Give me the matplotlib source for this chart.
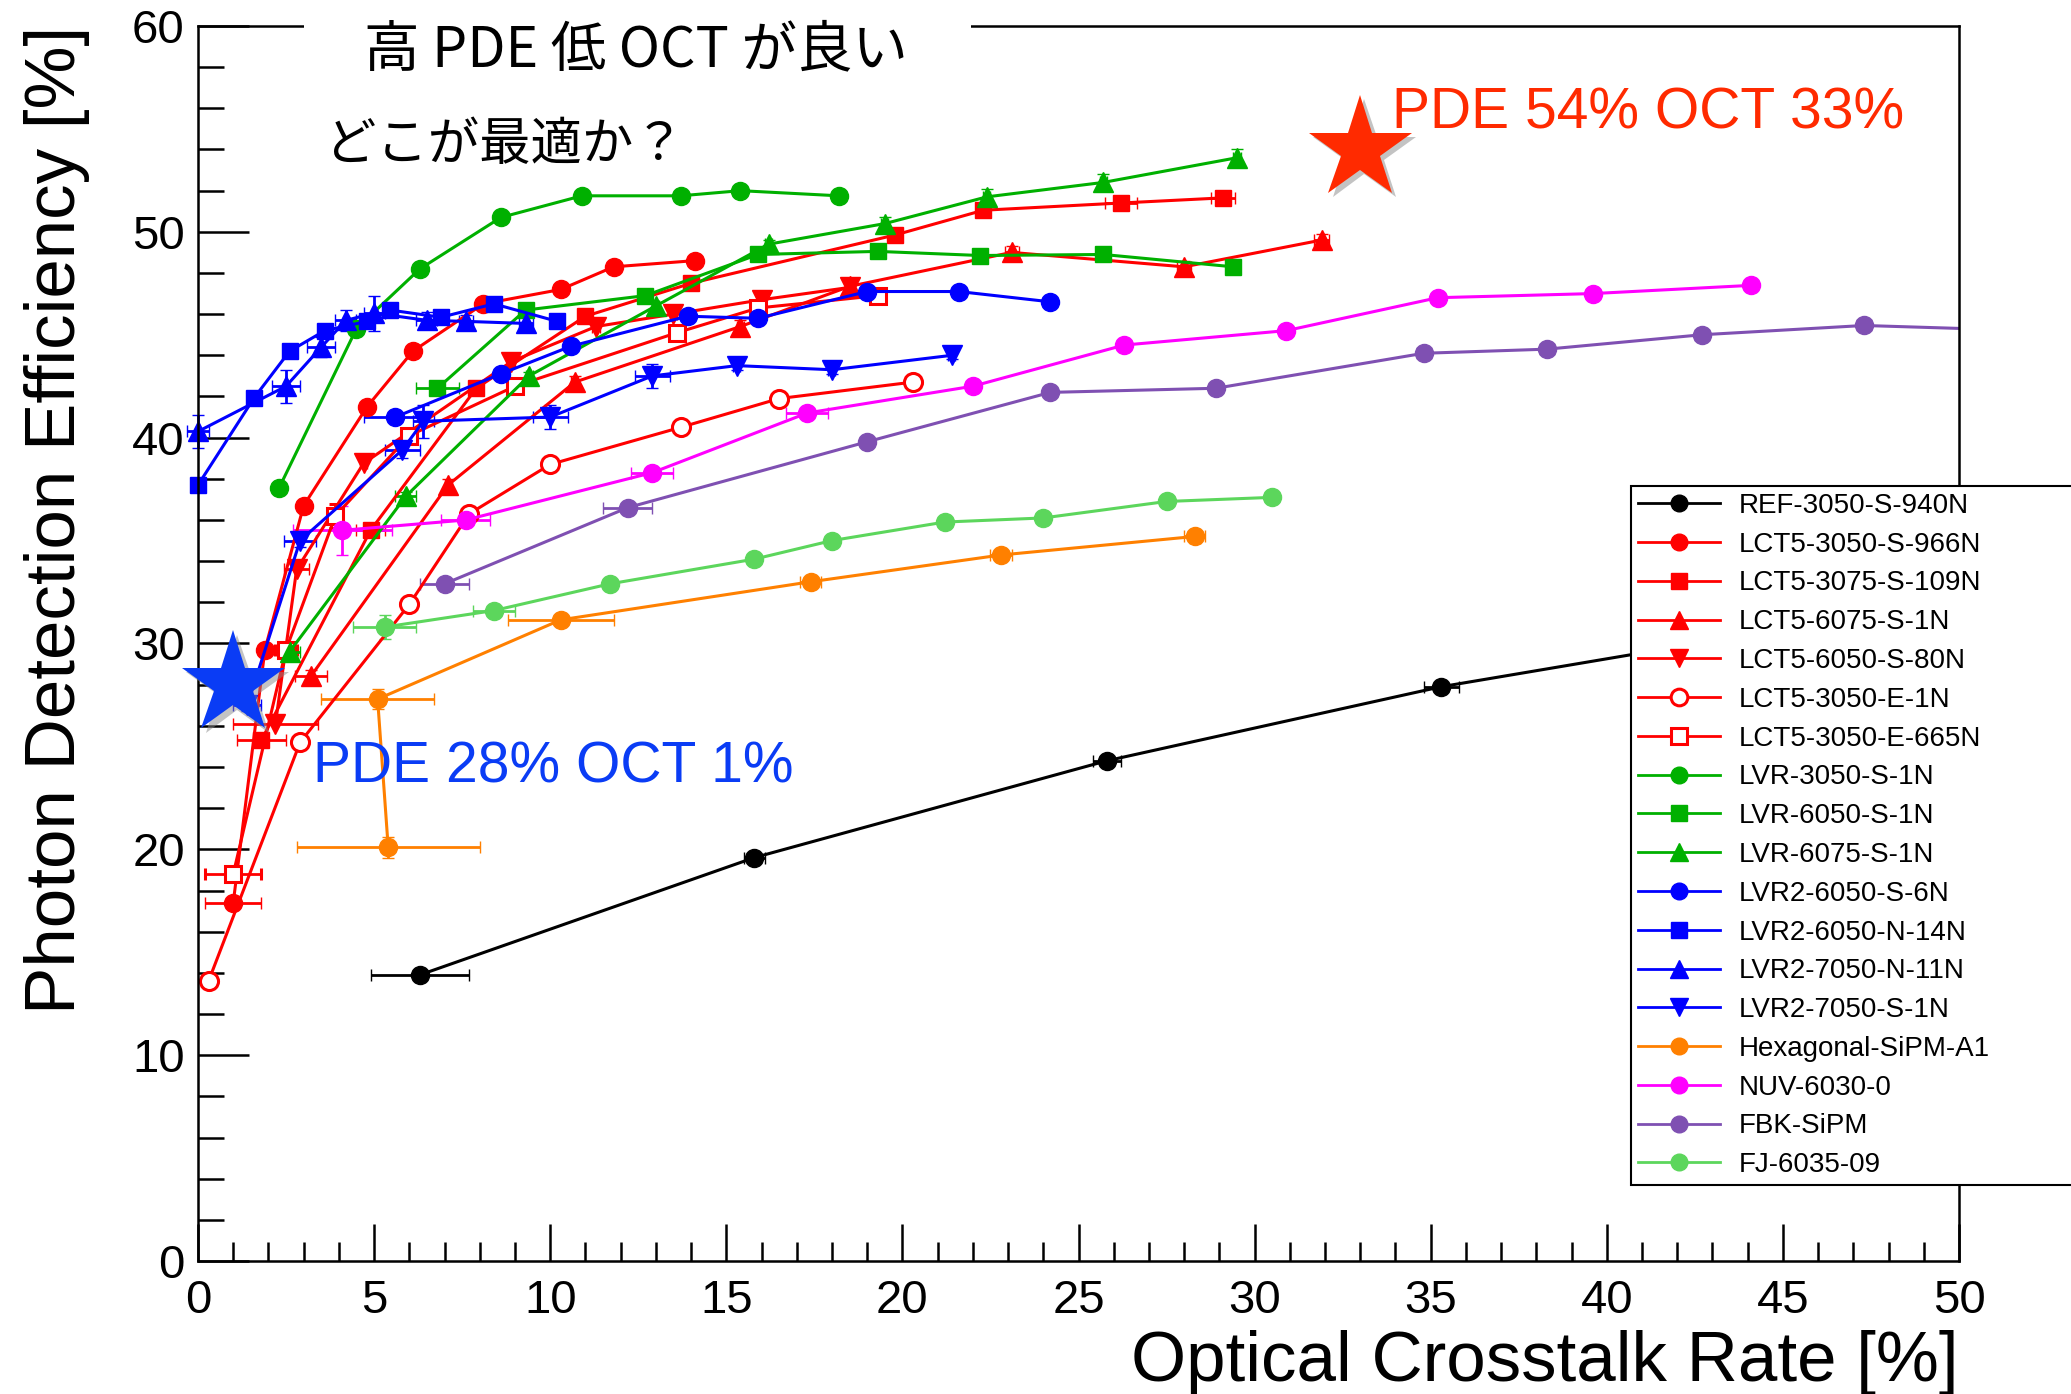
import matplotlib
matplotlib.use('Agg')
import matplotlib.pyplot as plt
import matplotlib.patheffects as pe
from matplotlib.lines import Line2D
from matplotlib.patches import Rectangle
from matplotlib.ticker import MultipleLocator

plt.rcParams['font.family'] = ['Liberation Sans', 'DejaVu Sans']
JP = ['Noto Sans CJK JP', 'DejaVu Sans']

# optical crosstalk [%] (x) vs PDE [%] (y) for each device
ref_x = [6.3, 15.8, 25.8, 35.3, 45.0]
ref_y = [13.9, 19.6, 24.3, 27.9, 30.7]
ref_xe = [1.4, 0.3, 0.4, 0.5, 0.5]

s966_x = [1.0, 1.9, 3.0, 4.8, 6.1, 8.1, 10.3, 11.8, 14.1]
s966_y = [17.4, 29.7, 36.7, 41.5, 44.2, 46.5, 47.2, 48.3, 48.6]
s966_xe = [0.8, 0.1, 0.1, 0.1, 0.1, 0.1, 0.1, 0.1, 0.1]

s109_x = [1.8, 4.9, 7.9, 11.0, 14.0, 19.8, 22.3, 26.2, 29.1]
s109_y = [25.3, 35.5, 42.4, 45.9, 47.5, 49.85, 51.05, 51.4, 51.65]
s109_xe = [0.7, 0.4, 0.1, 0.1, 0.1, 0.2, 0.2, 0.45, 0.35]

l6075_x = [3.2, 7.1, 10.7, 15.4, 18.5, 23.1, 28.0, 31.9]
l6075_y = [28.4, 37.7, 42.7, 45.4, 47.35, 49.0, 48.3, 49.6]
l6075_xe = [0.45, 0.1, 0.1, 0.1, 0.1, 0.2, 0.2, 0.2]
l6075_ye = [0.3, 0.3, 0.3, 0.3, 0.3, 0.3, 0.3, 0.3]

l6050_x = [2.2, 2.8, 4.7, 8.9, 11.3, 13.5, 16.0, 18.5]
l6050_y = [26.1, 33.6, 38.75, 43.7, 45.4, 46.0, 46.7, 47.3]
l6050_xe = [1.2, 0.35, 0.1, 0.1, 0.1, 0.1, 0.1, 0.1]

e1_x = [0.3, 2.9, 6.0, 7.7, 10.0, 13.7, 16.5, 20.3]
e1_y = [13.6, 25.2, 31.9, 36.3, 38.7, 40.5, 41.9, 42.7]

e665_x = [1.0, 2.5, 3.9, 6.0, 9.0, 13.6, 15.9, 19.3]
e665_y = [18.8, 29.7, 36.2, 40.1, 42.5, 45.1, 46.3, 46.9]
e665_xe = [0.8, 0.3, 0.1, 0.1, 0.1, 0.1, 0.1, 0.1]
e665_ye = [0.2, 0.2, 0.6, 0.2, 0.2, 0.2, 0.2, 0.2]

v3050_x = [2.3, 4.5, 6.3, 8.6, 10.9, 13.7, 15.4, 18.2]
v3050_y = [37.55, 45.3, 48.2, 50.7, 51.75, 51.75, 52.0, 51.75]

v6050_x = [6.8, 9.3, 12.7, 15.9, 19.3, 22.2, 25.7, 29.4]
v6050_y = [42.4, 46.2, 46.9, 48.9, 49.05, 48.85, 48.9, 48.3]
v6050_xe = [0.6, 0.1, 0.1, 0.1, 0.1, 0.1, 0.1, 0.1]

v6075_x = [2.6, 5.9, 9.4, 13.0, 16.2, 19.5, 22.4, 25.7, 29.5]
v6075_y = [29.6, 37.15, 43.0, 46.4, 49.4, 50.4, 51.7, 52.4, 53.6]
v6075_xe = [0.3, 0.3, 0.1, 0.1, 0.1, 0.1, 0.1, 0.1, 0.1]
v6075_ye = [0.2, 0.2, 0.2, 0.2, 0.2, 0.3, 0.4, 0.4, 0.4]

v2s6_x = [5.6, 8.6, 10.6, 13.9, 15.9, 19.0, 21.6, 24.2]
v2s6_y = [41.0, 43.1, 44.45, 45.9, 45.8, 47.1, 47.1, 46.6]
v2s6_xe = [0.9, 0.1, 0.1, 0.1, 0.1, 0.1, 0.1, 0.1]

v2n14_x = [0.0, 1.6, 2.6, 3.6, 4.8, 5.45, 6.9, 8.4, 10.2]
v2n14_y = [37.7, 41.95, 44.2, 45.2, 45.65, 46.2, 45.85, 46.5, 45.65]

v2n11_x = [0.0, 2.5, 3.5, 4.2, 5.0, 6.5, 7.6, 9.3]
v2n11_y = [40.3, 42.5, 44.4, 45.7, 46.05, 45.7, 45.65, 45.55]
v2n11_xe = [0.3, 0.4, 0.4, 0.3, 0.3, 0.3, 0.2, 0.2]
v2n11_ye = [0.8, 0.8, 0.5, 0.5, 0.85, 0.4, 0.3, 0.3]

v2s1_x = [1.4, 2.9, 5.8, 6.4, 10.0, 12.9, 15.3, 18.0, 21.4]
v2s1_y = [27.0, 35.0, 39.4, 40.8, 41.0, 43.0, 43.5, 43.3, 44.0]
v2s1_xe = [0.4, 0.45, 0.5, 0.3, 0.5, 0.5, 0.1, 0.1, 0.1]
v2s1_ye = [0.3, 0.3, 0.4, 0.8, 0.6, 0.6, 0.2, 0.2, 0.2]

hex_x = [5.4, 5.1, 10.3, 17.4, 22.8, 28.3]
hex_y = [20.1, 27.3, 31.15, 33.0, 34.3, 35.2]
hex_xe = [2.6, 1.6, 1.5, 0.3, 0.3, 0.3]
hex_ye = [0.5, 0.5, 0.2, 0.2, 0.2, 0.3]

nuv_x = [4.1, 7.6, 12.9, 17.3, 22.0, 26.3, 30.9, 35.2, 39.6, 44.1]
nuv_y = [35.5, 36.0, 38.3, 41.2, 42.5, 44.5, 45.2, 46.8, 47.0, 47.4]
nuv_xe = [1.4, 0.7, 0.6, 0.6, 0.1, 0.1, 0.1, 0.1, 0.1, 0.1]
nuv_ye = [1.2, 0.3, 0.2, 0.2, 0.2, 0.2, 0.2, 0.2, 0.2, 0.2]

fbk_x = [7.0, 12.2, 19.0, 24.2, 28.9, 34.8, 38.3, 42.7, 47.3, 53.0]
fbk_y = [32.9, 36.6, 39.8, 42.2, 42.4, 44.1, 44.3, 45.0, 45.45, 45.15]
fbk_xe = [0.7, 0.7, 0.1, 0.1, 0.1, 0.2, 0.2, 0.2, 0.2, 0.2]

fj_x = [5.3, 8.4, 11.7, 15.8, 18.0, 21.2, 24.0, 27.5, 30.5]
fj_y = [30.8, 31.6, 32.9, 34.1, 35.0, 35.9, 36.1, 36.9, 37.1]
fj_xe = [0.9, 0.6, 0.1, 0.1, 0.1, 0.1, 0.1, 0.1, 0.1]
fj_ye = [0.6, 0.2, 0.2, 0.2, 0.2, 0.2, 0.2, 0.2, 0.2]

RED, GRN, BLU = '#ff0000', '#00b000', '#0000ff'

# label, x, y, xerr, yerr, color, marker, open marker
series = [
    ('REF-3050-S-940N', ref_x, ref_y, ref_xe, None, 'black', 'o', False),
    ('LCT5-3050-S-966N', s966_x, s966_y, s966_xe, None, RED, 'o', False),
    ('LCT5-3075-S-109N', s109_x, s109_y, s109_xe, None, RED, 's', False),
    ('LCT5-6075-S-1N', l6075_x, l6075_y, l6075_xe, l6075_ye, RED, '^', False),
    ('LCT5-6050-S-80N', l6050_x, l6050_y, l6050_xe, None, RED, 'v', False),
    ('LCT5-3050-E-1N', e1_x, e1_y, None, None, RED, 'o', True),
    ('LCT5-3050-E-665N', e665_x, e665_y, e665_xe, e665_ye, RED, 's', True),
    ('LVR-3050-S-1N', v3050_x, v3050_y, None, None, GRN, 'o', False),
    ('LVR-6050-S-1N', v6050_x, v6050_y, v6050_xe, None, GRN, 's', False),
    ('LVR-6075-S-1N', v6075_x, v6075_y, v6075_xe, v6075_ye, GRN, '^', False),
    ('LVR2-6050-S-6N', v2s6_x, v2s6_y, v2s6_xe, None, BLU, 'o', False),
    ('LVR2-6050-N-14N', v2n14_x, v2n14_y, None, None, BLU, 's', False),
    ('LVR2-7050-N-11N', v2n11_x, v2n11_y, v2n11_xe, v2n11_ye, BLU, '^', False),
    ('LVR2-7050-S-1N', v2s1_x, v2s1_y, v2s1_xe, v2s1_ye, BLU, 'v', False),
    ('Hexagonal-SiPM-A1', hex_x, hex_y, hex_xe, hex_ye, '#ff8000', 'o', False),
    ('NUV-6030-0', nuv_x, nuv_y, nuv_xe, nuv_ye, '#ff00ff', 'o', False),
    ('FBK-SiPM', fbk_x, fbk_y, fbk_xe, None, '#7f50b2', 'o', False),
    ('FJ-6035-09', fj_x, fj_y, fj_xe, fj_ye, '#5cd65c', 'o', False),
]

msize = {'o': 13, 's': 12, '^': 14, 'v': 14}

W, H = 2071, 1394
fig = plt.figure(figsize=(W / 100, H / 100), dpi=100)
ax = fig.add_axes([198 / W, 1 - 1261 / H, (1959 - 198) / W, (1261 - 26) / H])

handles = []
for label, x, y, xe, ye, c, m, hollow in series:
    style = dict(color=c, marker=m, ms=msize[m], lw=2.2,
                 mfc='white' if hollow else c, mec=c, mew=2.2 if hollow else 1)
    cont = ax.errorbar(x, y, xerr=xe, yerr=ye, capsize=4, capthick=2,
                       elinewidth=2, **style)
    if label != 'FBK-SiPM':
        for art in cont.get_children():
            art.set_clip_on(False)
    handles.append(Line2D([], [], label=label, **dict(style, ms=style['ms'] - 1, lw=2)))

# target points
shadow = [pe.SimplePatchShadow(offset=(3, -3), shadow_rgbFace='#888888', alpha=0.5),
          pe.Normal()]
ax.plot([1.0], [28.0], marker='*', ms=78, color='#0a3cf5', mec='none',
        clip_on=False, zorder=6, path_effects=shadow)
ax.plot([33.0], [54.0], marker='*', ms=78, color='#ff2a00', mec='none',
        clip_on=False, zorder=6, path_effects=shadow)

ax.text(3.27, 23.27, 'PDE 28% OCT 1%', color='#0a3cf5', fontsize=41,
        va='baseline', zorder=7)
ax.text(33.9, 55.0, 'PDE 54% OCT 33%', color='#ff2a00', fontsize=41,
        va='baseline', clip_on=False, zorder=7)

# white strip breaking the top frame behind the comment
ax.add_patch(Rectangle((304 / W, 1 - 42 / H), (971 - 304) / W, 30 / H,
                       transform=fig.transFigure, facecolor='white',
                       edgecolor='none', clip_on=False, zorder=2.6))
ax.text(4.7, 58.03, '高 PDE 低 OCT が良い', family=JP, fontsize=40,
        va='baseline', clip_on=False, zorder=7)
ax.text(3.6, 53.5, 'どこが最適か？', family=JP, fontsize=37,
        va='baseline', clip_on=False, zorder=7)

ax.set_xlim(0, 50)
ax.set_ylim(0, 60)
ax.xaxis.set_major_locator(MultipleLocator(5))
ax.xaxis.set_minor_locator(MultipleLocator(1))
ax.yaxis.set_major_locator(MultipleLocator(10))
ax.yaxis.set_minor_locator(MultipleLocator(2))
ax.tick_params(which='both', direction='in', top=False, right=False, width=1.8)
ax.tick_params(axis='x', which='major', length=27, labelsize=34, pad=13)
ax.tick_params(axis='x', which='minor', length=13.5)
ax.tick_params(axis='y', which='major', length=37, labelsize=34, pad=9.5)
ax.tick_params(axis='y', which='minor', length=18.5)
for sp in ax.spines.values():
    sp.set_linewidth(1.8)

ax.set_xlabel('Optical Crosstalk Rate [%]', fontsize=51, loc='right', va='baseline')
ax.xaxis.set_label_coords(1.0, -0.097)
ax.set_ylabel('Photon Detection Efficiency [%]', fontsize=51, loc='top', va='baseline')
ax.yaxis.set_label_coords(-0.0698, 1.0)

leg = ax.legend(handles=handles, loc='upper left',
                bbox_to_anchor=(1631 / W, 1 - 486 / H, (2200 - 1631) / W, 0),
                bbox_transform=fig.transFigure, mode='expand', borderaxespad=0,
                fontsize=20, labelspacing=0.46, handlelength=2.95,
                handletextpad=0.68, borderpad=0.25, fancybox=False,
                framealpha=1, edgecolor='black')
leg.get_frame().set_linewidth(1.5)

fig.savefig('out.png', dpi=100, facecolor='white')
